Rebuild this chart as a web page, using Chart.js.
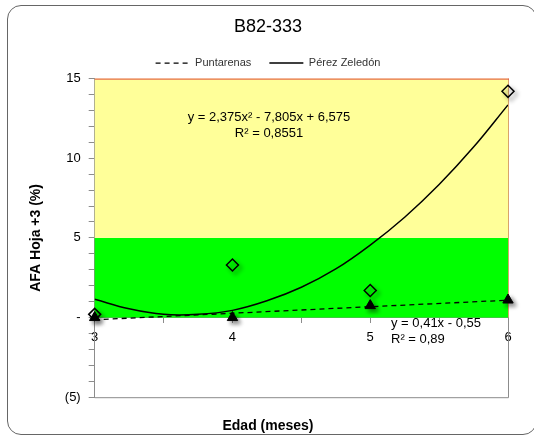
<!DOCTYPE html>
<html>
<head>
<meta charset="utf-8">
<script src="https://cdn.jsdelivr.net/npm/chart.js@4"></script>
<style>
  body { margin: 0; background: #fff; }
  #wrap { position: relative; width: 534px; height: 437px; }
  #frame { position: absolute; left: 7px; top: 5px; width: 530px; height: 430px;
           border: 1px solid #666; border-radius: 14px; box-sizing: border-box; }
  canvas { position: absolute; left: 0; top: 0; }
</style>
</head>
<body>
<div id="wrap">
  <div id="frame"></div>
  <canvas id="myChart" width="534" height="437"></canvas>
</div>
<script>
// edad (meses)
var edad = [3, 4, 5, 6];
var puntarenas = [0, 0, 0.75, 1.1];
var perezZeledon = [0.2, 3.3, 1.7, 14.2];

// trend lines
var trendPZx = [3, 3.25, 3.5, 3.75, 4, 4.25, 4.5, 4.75, 5, 5.25, 5.5, 5.75, 6];
var trendPZy = [1.15, 0.55, 0.2, 0.2, 0.45, 1.05, 1.9, 3.05, 4.55, 6.3, 8.35, 10.7, 13.35];
var trendPx = [3, 6];
var trendPy = [-0.14, 1.09];

var yTicks = { '15': '15', '10': '10', '5': '5', '0': '-', '-5': '(5)' };

// background bands
var bandLow = [0, 5];
var bandHigh = [5, 15];
var bandColor = ['#00ff00', '#ffff99'];

function pts(xs, ys) {
    return xs.map(function(x, i) { return { x: x, y: ys[i] }; });
}

var bandsPlugin = {
    id: 'bands',
    beforeDatasetsDraw: function(chart) {
        var c = chart.ctx, a = chart.chartArea, ys = chart.scales.y;
        c.save();
        for (var i = 0; i < bandLow.length; i++) {
            var t = ys.getPixelForValue(bandHigh[i]), b = ys.getPixelForValue(bandLow[i]);
            c.fillStyle = bandColor[i];
            c.fillRect(a.left, t, a.right - a.left, b - t);
        }
        // plot border
        c.strokeStyle = '#8c8c8c';
        c.lineWidth = 1;
        c.beginPath();
        c.moveTo(a.right + 0.5, ys.getPixelForValue(0));
        c.lineTo(a.right + 0.5, a.bottom + 0.5);
        c.lineTo(a.left, a.bottom + 0.5);
        c.stroke();
        c.strokeStyle = '#d9a36a';
        c.beginPath();
        c.moveTo(a.right + 0.5, a.top);
        c.lineTo(a.right + 0.5, ys.getPixelForValue(0));
        c.stroke();
        c.strokeStyle = '#e0483a';
        c.beginPath();
        c.moveTo(a.left, a.top + 0.5);
        c.lineTo(a.right + 1, a.top + 0.5);
        c.stroke();
        c.restore();
    },
    afterDatasetsDraw: function(chart) {
        var c = chart.ctx;
        c.save();
        c.fillStyle = '#000';
        c.font = '13px "Liberation Sans", Arial, sans-serif';
        c.textAlign = 'center';
        c.textBaseline = 'middle';
        c.fillText('y = 2,375x² - 7,805x + 6,575', 269, 117);
        c.fillText('R² = 0,8551', 269, 133);
        c.textAlign = 'left';
        c.fillText('y = 0,41x - 0,55', 391, 323);
        c.fillText('R² = 0,89', 391, 339);
        c.restore();
    }
};

var shadowPlugin = {
    id: 'shadow',
    beforeDatasetDraw: function(chart, args) {
        if (args.index > 1) return;
        var c = chart.ctx;
        c.save();
        c.shadowColor = 'rgba(0,0,0,0.45)';
        c.shadowBlur = 4;
        c.shadowOffsetX = 3;
        c.shadowOffsetY = 3;
    },
    afterDatasetDraw: function(chart, args) {
        if (args.index > 1) return;
        chart.ctx.restore();
    }
};

var ctx = document.getElementById('myChart').getContext('2d');
Chart.defaults.font.family = '"Liberation Sans", Arial, sans-serif';
Chart.defaults.color = '#000';

var chart = new Chart(ctx, {
    type: 'scatter',
    data: {
        datasets: [{
            label: 'Puntarenas datos',
            data: pts(edad, puntarenas),
            pointStyle: 'triangle',
            pointRadius: 6,
            backgroundColor: '#000',
            borderColor: '#000',
            showLine: false,
            clip: false,
            order: 1
        }, {
            label: 'Pérez Zeledón datos',
            data: pts(edad, perezZeledon),
            pointStyle: 'rectRot',
            pointRadius: 6,
            backgroundColor: 'rgba(0,0,0,0)',
            borderColor: '#000',
            borderWidth: 1.5,
            showLine: false,
            clip: false,
            order: 2
        }, {
            label: 'Puntarenas',
            data: pts(trendPx, trendPy),
            showLine: true,
            borderColor: '#000',
            backgroundColor: 'rgba(0,0,0,0)',
            borderWidth: 1.3,
            borderDash: [5, 4],
            pointRadius: 0,
            order: 3
        }, {
            label: 'Pérez Zeledón',
            data: pts(trendPZx, trendPZy),
            showLine: true,
            borderColor: '#000',
            backgroundColor: 'rgba(0,0,0,0)',
            borderWidth: 1.5,
            tension: 0.4,
            pointRadius: 0,
            order: 4
        }]
    },
    options: {
        responsive: false,
        animation: false,
        layout: { padding: { left: 28, right: 26, top: 0, bottom: 0 } },
        plugins: {
            title: {
                display: true,
                text: 'B82-333',
                font: { size: 18, weight: 'normal' },
                padding: { top: 16, bottom: 2 }
            },
            subtitle: {
                display: true,
                position: 'bottom',
                text: 'Edad (meses)',
                font: { size: 14, weight: 'bold' },
                padding: { top: 21, bottom: 2 }
            },
            legend: {
                labels: {
                    filter: function(item) { return item.datasetIndex > 1; },
                    boxWidth: 34,
                    boxHeight: 0,
                    font: { size: 11 },
                    color: '#333',
                    padding: 18
                }
            },
            tooltip: { enabled: false }
        },
        scales: {
            x: {
                type: 'linear',
                min: 3,
                max: 6,
                position: { y: 0 },
                border: { color: '#8c8c8c' },
                grid: { drawOnChartArea: false, tickLength: 5, color: '#8c8c8c' },
                ticks: {
                    stepSize: 0.5,
                    autoSkip: false,
                    maxRotation: 0,
                    font: { size: 13 },
                    padding: 7,
                    callback: function(v) { return Number.isInteger(v) ? String(v) : ''; }
                }
            },
            y: {
                min: -5,
                max: 15,
                border: { color: '#8c8c8c' },
                grid: { drawOnChartArea: false, tickLength: 6, color: '#8c8c8c' },
                ticks: {
                    stepSize: 1,
                    autoSkip: false,
                    font: { size: 13 },
                    padding: 8,
                    callback: function(v) { return yTicks[String(v)] || ''; }
                },
                title: {
                    display: true,
                    text: 'AFA Hoja +3 (%)',
                    font: { size: 14, weight: 'bold' },
                    padding: { top: 0, bottom: 12 }
                }
            }
        }
    },
    plugins: [bandsPlugin, shadowPlugin]
});
</script>
</body>
</html>
